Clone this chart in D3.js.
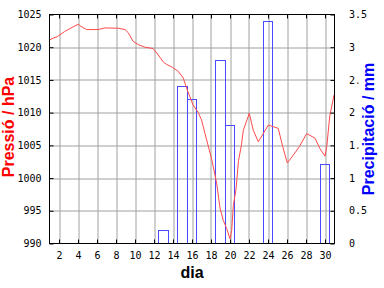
<!DOCTYPE html>
<html><head><meta charset="utf-8">
<script src="https://cdn.jsdelivr.net/npm/d3@7"></script>
<style>body{margin:0;background:#fff}svg{display:block}</style>
</head><body>
<svg id="c" width="384" height="288"></svg>
<script>
// ---- data ----
const pressureDays = [1.0,1.4,1.8,2.1,2.6,3.16,3.6,4.03,4.3,4.9,6.1,6.84,8.24,8.95,9.3,9.8,10.35,11.05,11.9,12.3,13.0,13.3,13.97,14.56,15.08,15.44,16.1,16.66,17.0,17.37,17.8,18.1,18.6,18.95,19.3,19.65,20.0,20.18,20.35,20.63,20.9,21.2,21.4,22.03,22.45,22.98,23.5,24.03,24.56,25.08,25.55,26.03,26.66,27.3,28.07,28.95,29.47,30.0,30.2,30.5,30.95];
const pressureValues = [1021.1,1021.4,1021.6,1021.9,1022.4,1022.85,1023.2,1023.5,1023.2,1022.7,1022.7,1022.95,1022.9,1022.7,1022.2,1020.9,1020.4,1020.0,1019.8,1019.1,1017.7,1017.4,1016.9,1016.3,1015.3,1013.7,1011.2,1010.0,1008.9,1006.8,1004.4,1002.7,999.2,995.4,993.5,992.3,990.7,992.0,995.8,998.3,1002.7,1005.0,1007.3,1009.9,1007.3,1005.55,1006.8,1008.1,1007.85,1007.6,1004.8,1002.3,1003.5,1004.8,1006.8,1006.1,1004.5,1003.35,1005.0,1009.5,1012.7];
const precipDays = [13,15,16,19,20,24,30];
const precipValues = [0.2,2.4,2.2,2.8,1.8,3.4,1.2];
const dayTicks = [2,4,6,8,10,12,14,16,18,20,22,24,26,28,30];
const pressureTicks = [990,995,1000,1005,1010,1015,1020,1025];
const precipTicks = [0,0.5,1,1.5,2,2.5,3,3.5];
const precipTickLabels = ["0","0.5","1","1.5","2","2.5","3","3.5"];
const xTitle = "dia", yTitle = "Pressió / hPa", y2Title = "Precipitació / mm";

// ---- layout ----
const L = 49.5, R = 334.5, T = 14.5, B = 243.5;
const svg = d3.select("#c");
const x = d3.scaleLinear().domain([1,31]).range([L,R]);
const yP = d3.scaleLinear().domain([990,1025]).range([B,T]);
const yR = d3.scaleLinear().domain([0,3.5]).range([B,T]);
const snap = v => Math.round(v - 0.5) + 0.5;

const tickFont = g => g.selectAll("text")
  .attr("font-family","DejaVu Sans Mono").attr("font-size","10px").attr("fill","#000");

// grid
svg.append("g").attr("transform",`translate(0,${B})`)
  .call(d3.axisBottom(x).tickValues(dayTicks).tickSize(-(B-T)).tickFormat(""))
  .call(g=>{g.select(".domain").remove();g.selectAll("line").attr("stroke","#a0a0a0").attr("transform",d=>`translate(${snap(x(d))-x(d)},0)`);});
svg.append("g").attr("transform",`translate(${L},0)`)
  .call(d3.axisLeft(yP).tickValues(pressureTicks.slice(1,-1)).tickSize(-(R-L)).tickFormat(""))
  .call(g=>{g.select(".domain").remove();g.selectAll("line").attr("stroke","#a0a0a0").attr("transform",d=>`translate(0,${snap(yP(d))-yP(d)})`);});

// bars
svg.append("g").selectAll("rect").data(precipDays.map((d,i)=>({d,v:precipValues[i]}))).join("rect")
  .attr("x",p=>snap(x(p.d-0.5)))
  .attr("width",p=>snap(x(p.d+0.5))-snap(x(p.d-0.5)))
  .attr("y",p=>snap(yR(p.v)))
  .attr("height",p=>B-snap(yR(p.v)))
  .attr("fill","none").attr("stroke","#4a4aff").attr("stroke-width",1);

// pressure line
svg.append("path")
  .datum(pressureDays.map((d,i)=>[d,pressureValues[i]]))
  .attr("d",d3.line().x(p=>x(p[0])).y(p=>yP(p[1])))
  .attr("fill","none").attr("stroke","#ff4a4a").attr("stroke-width",1);

// frame
svg.append("rect").attr("x",L).attr("y",T).attr("width",R-L).attr("height",B-T)
  .attr("fill","none").attr("stroke","#000").attr("stroke-width",1);

// axes with inward ticks
svg.append("g").attr("transform",`translate(0,${B})`)
  .call(d3.axisBottom(x).tickValues(dayTicks).tickSize(-4).tickPadding(8).tickFormat(d3.format("d")))
  .call(g=>{g.select(".domain").remove();g.selectAll("line").attr("stroke","#000");tickFont(g);});
svg.append("g").attr("transform",`translate(0,${T})`)
  .call(d3.axisTop(x).tickValues(dayTicks).tickSize(-4).tickFormat(""))
  .call(g=>{g.select(".domain").remove();g.selectAll("line").attr("stroke","#000");});
svg.append("g").attr("transform",`translate(${L},0)`)
  .call(d3.axisLeft(yP).tickValues(pressureTicks).tickSize(-4).tickPadding(8).tickFormat(d3.format("d")))
  .call(g=>{g.select(".domain").remove();g.selectAll("line").attr("stroke","#000");tickFont(g);});
svg.append("g").attr("transform",`translate(${R},0)`)
  .call(d3.axisRight(yR).tickValues(precipTicks).tickSize(-4).tickPadding(14.5).tickFormat((d,i)=>precipTickLabels[i]))
  .call(g=>{g.select(".domain").remove();g.selectAll("line").attr("stroke","#000");tickFont(g);});

// titles
const titleFont = s => s.attr("font-family","Liberation Sans, Arial, sans-serif").attr("font-weight","bold").attr("font-size","16px");
svg.append("text").call(titleFont).attr("x",(L+R)/2).attr("y",278).attr("text-anchor","middle").attr("fill","#000").text(xTitle);
svg.append("text").call(titleFont).attr("transform",`translate(14,${(T+B)/2-2}) rotate(-90)`).attr("text-anchor","middle").attr("fill","#ff0000").text(yTitle);
// label box (white background) behind the right title, as in the reference
const y2bg = svg.append("rect").attr("fill","#fff");
const y2t = svg.append("text").call(titleFont).attr("transform",`translate(373.5,${(T+B)/2}) rotate(-90)`)
  .attr("text-anchor","middle").attr("fill","#0000ff").text(y2Title);
const bb = y2t.node().getBBox();
y2bg.attr("x",373.5+bb.y-1).attr("width",bb.height+2)
    .attr("y",(T+B)/2-bb.x-bb.width).attr("height",bb.width);
</script>
</body></html>
